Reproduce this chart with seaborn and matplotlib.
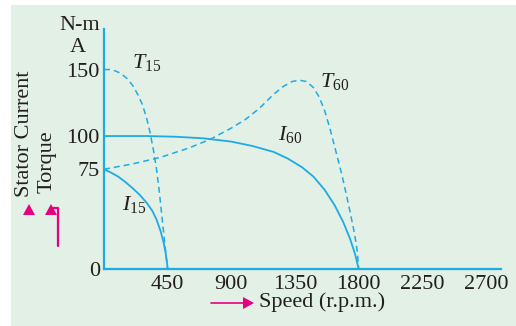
import numpy as np
import pandas as pd
import seaborn as sns
import matplotlib.pyplot as plt
from matplotlib.patches import Rectangle, Polygon
from matplotlib.lines import Line2D

# --- data ---
t15_speed = [0, 40, 80, 120, 160, 200, 240, 270, 300, 325, 350, 370, 390, 410, 428, 442, 450]
t15_value = [150, 150, 149, 147, 143.5, 138.5, 131, 124, 114, 103, 89, 76, 59, 39, 21, 7, 0]

i15_speed = [0, 50, 100, 150, 200, 250, 300, 340, 370, 400, 420, 435, 445, 450]
i15_value = [75, 72.5, 69.5, 65.5, 61, 56, 50, 44, 37.5, 28.5, 20.5, 12.5, 5, 0]

i60_speed = [0, 300, 500, 700, 900, 1050, 1200, 1300, 1400, 1480, 1560, 1630, 1690, 1740,
             1775, 1800]
i60_value = [100, 100, 99.5, 98.3, 95.8, 92.5, 88, 83, 76.5, 69.5, 59.5, 48, 35.5, 22.5, 11, 0]

t60_speed = [0, 200, 400, 600, 750, 900, 1000, 1100, 1200, 1270, 1330, 1380, 1430, 1480,
             1520, 1560, 1600, 1640, 1680, 1715, 1745, 1770, 1790, 1800]
t60_value = [75, 79, 84, 91, 97.5, 106, 112.5, 121, 131.5, 137.5, 141, 142, 141, 136.5,
             129.5, 119, 104.5, 88, 71.5, 55, 40, 27, 13.5, 0]

x_ticks = [450, 900, 1350, 1800, 2250, 2700]
y_ticks = [0, 75, 100, 150]

# --- style ---
sns.set_style('white')
plt.rcParams['font.family'] = ['Liberation Serif', 'DejaVu Serif']
plt.rcParams['mathtext.fontset'] = 'custom'
plt.rcParams['mathtext.rm'] = 'Liberation Serif'
plt.rcParams['mathtext.it'] = 'Liberation Serif:italic'
plt.rcParams['lines.scale_dashes'] = False

BLUE = '#1eabe5'
MAGENTA = '#e5007d'
TXT = '#231f20'
BG = '#e2f0e6'
FS = 16

W, H = 516, 326


def fxy(px, py):
    return px / W, 1 - py / H


fig = plt.figure(figsize=(W / 100, H / 100), dpi=100, facecolor='white')
fig.patches.append(Rectangle(fxy(11, H), 1, 1 - 5 / H, transform=fig.transFigure,
                             facecolor=BG, edgecolor='none', zorder=-10))

ax = fig.add_axes([104 / W, 1 - 269 / H, 397 / W, 240 / H])
ax.set_facecolor('none')

curves = [
    (t15_speed, t15_value, True),
    (i15_speed, i15_value, False),
    (i60_speed, i60_value, False),
    (t60_speed, t60_value, True),
]
for sp, val, dashed in curves:
    df = pd.DataFrame({'speed': sp, 'value': val})
    sns.lineplot(data=df, x='speed', y='value', ax=ax, sort=False, estimator=None,
                 color=BLUE, lw=1.1 if dashed else 1.3)
    if dashed:
        ax.lines[-1].set_dashes((4.3, 2.9))

ax.set_xlim(0, 2806)
ax.set_ylim(0, 180.5)
ax.set_xlabel('')
ax.set_ylabel('')

for s in ['top', 'right']:
    ax.spines[s].set_visible(False)
for s in ['left', 'bottom']:
    ax.spines[s].set_color(BLUE)
    ax.spines[s].set_linewidth(1.6)

ax.set_xticks(x_ticks)
ax.set_xticklabels([str(v) for v in x_ticks], fontsize=FS, color=TXT)
ax.set_yticks(y_ticks)
ax.set_yticklabels([str(v) for v in y_ticks], fontsize=FS, color=TXT)
ax.tick_params(axis='x', direction='in', length=4, width=1.2, color=BLUE, pad=4)
ax.tick_params(axis='y', length=0, pad=3)

# curve labels
ax.text(200, 151, r'$T_{15}$', fontsize=FS, color=TXT, ha='left', va='baseline')
ax.text(1527, 137, r'$T_{60}$', fontsize=FS, color=TXT, ha='left', va='baseline')
ax.text(1230, 97, r'$I_{60}$', fontsize=FS, color=TXT, ha='left', va='baseline')
ax.text(127, 44, r'$I_{15}$', fontsize=FS, color=TXT, ha='left', va='baseline')

# unit labels
fig.text(*fxy(100, 25), 'N-m', fontsize=FS, color=TXT, ha='right', va='center')
fig.text(*fxy(78, 47), 'A', fontsize=FS, color=TXT, ha='center', va='center')

# axis titles
fig.text(*fxy(25, 134), 'Stator Current', fontsize=FS, color=TXT, rotation=90,
         ha='center', va='center')
fig.text(*fxy(47, 162), 'Torque', fontsize=FS, color=TXT, rotation=90,
         ha='center', va='center')
fig.text(*fxy(322, 302), 'Speed (r.p.m.)', fontsize=FS, color=TXT, ha='center', va='center')

# magenta arrows
for cx in [29, 51]:
    fig.add_artist(Polygon([fxy(cx - 6, 215), fxy(cx + 6, 215), fxy(cx, 204)], closed=True,
                           transform=fig.transFigure, facecolor=MAGENTA, edgecolor='none'))
fig.add_artist(Line2D([53 / W, 58 / W, 58 / W], [1 - 208 / H, 1 - 208 / H, 1 - 246 / H],
                      transform=fig.transFigure, color=MAGENTA, lw=1.6))
fig.add_artist(Line2D([211 / W, 246 / W], [1 - 303 / H, 1 - 303 / H],
                      transform=fig.transFigure, color=MAGENTA, lw=1.2))
fig.add_artist(Polygon([fxy(243, 297), fxy(243, 309), fxy(254, 303)], closed=True,
                       transform=fig.transFigure, facecolor=MAGENTA, edgecolor='none'))

fig.savefig('out.png', dpi=100, facecolor='white')
